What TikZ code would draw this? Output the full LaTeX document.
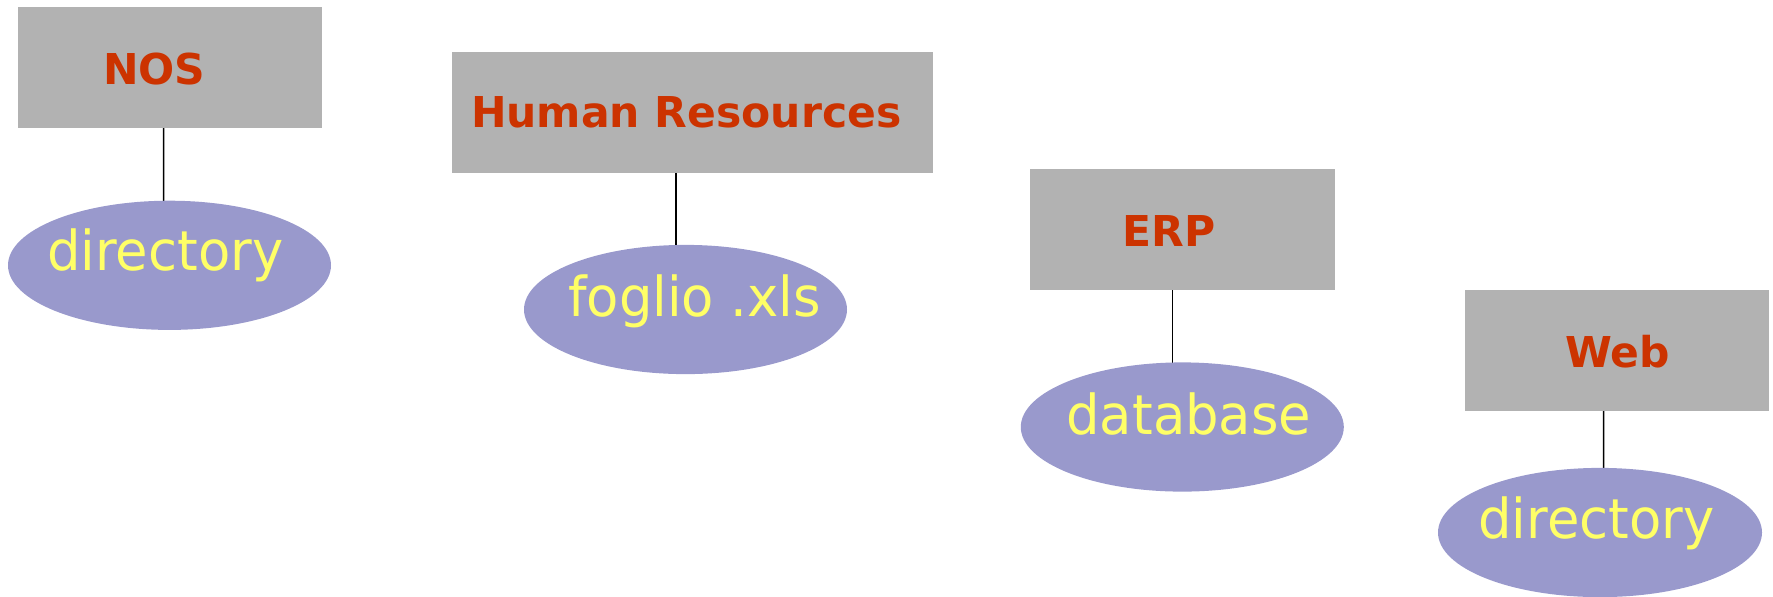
\documentclass[tikz,border=0pt]{standalone}
\usepackage{fontspec}
\usetikzlibrary{shapes.geometric}
\newfontfamily\titlefont{DejaVu Sans}
\newfontfamily\ellfont[FakeStretch=0.96]{DejaVu Sans}
\definecolor{boxgray}{HTML}{B2B2B2}
\definecolor{titlered}{HTML}{CC3300}
\definecolor{ellblue}{HTML}{9999CC}
\definecolor{ellyellow}{HTML}{FFFF66}
\tikzset{
  sysbox/.style={draw=none, fill=boxgray, rectangle, inner sep=0pt, minimum height=60.35pt},
  store/.style={draw=none, fill=ellblue, ellipse, inner sep=0pt, minimum height=64.6pt},
  titletext/.style={anchor=base west, inner sep=0pt, text=titlered, font=\titlefont\bfseries\fontsize{21.25pt}{24pt}\selectfont},
  elltext/.style={anchor=base west, inner sep=0pt, text=ellyellow, font=\ellfont\fontsize{27.5pt}{32pt}\selectfont},
  link/.style={draw=black, line width=0.75pt}
}
\begin{document}
\begin{tikzpicture}[x=0.5pt, y=-0.5pt]
\useasboundingbox (0,0) rectangle (1773,596);
% boxes
\node[sysbox, minimum width=151.85pt] (nos) at (169.85,67.35) {};
\node[sysbox, minimum width=240.5pt] (hr) at (692.5,112.3) {};
\node[sysbox, minimum width=152.5pt] (erp) at (1182.5,229.3) {};
\node[sysbox, minimum width=152pt] (web) at (1617,350.3) {};
% connector ends (hidden under the ellipses)
\coordinate (c1) at (163.7,206);
\coordinate (c2) at (676,250);
\coordinate (c3) at (1172.3,367);
\coordinate (c4) at (1603.7,473);
% connectors
\draw[link] ([xshift=-3.08pt]nos.south) -- (c1);
\draw[link] ([xshift=-8.25pt]hr.south) -- (c2);
\draw[link] ([xshift=-5.1pt]erp.south) -- (c3);
\draw[link] ([xshift=-6.65pt]web.south) -- (c4);
% ellipses
\node[store, minimum width=161.5pt] (d1) at (169.5,265.3) {};
\node[store, minimum width=161.5pt] (fx) at (685.5,309.5) {};
\node[store, minimum width=161.5pt] (db) at (1182.3,427) {};
\node[store, minimum width=162pt] (d2) at (1600,532.5) {};
% titles
\node[titletext] (tnos) at (102.7,84) {NOS};
\node[titletext] (thr) at (470.7,127.7) {Human Resources};
\node[titletext] (terp) at (1122,246.7) {ERP};
\node[titletext] (tweb) at (1565,367.7) {Web};
% ellipse texts
\node[elltext] (td1) at (46.7,270) {directory};
\node[elltext] (tfx) at (567.7,316.7) {foglio .xls};
\node[elltext] (tdb) at (1066,434) {database};
\node[elltext] (td2) at (1478,538) {directory};
\end{tikzpicture}
\end{document}
